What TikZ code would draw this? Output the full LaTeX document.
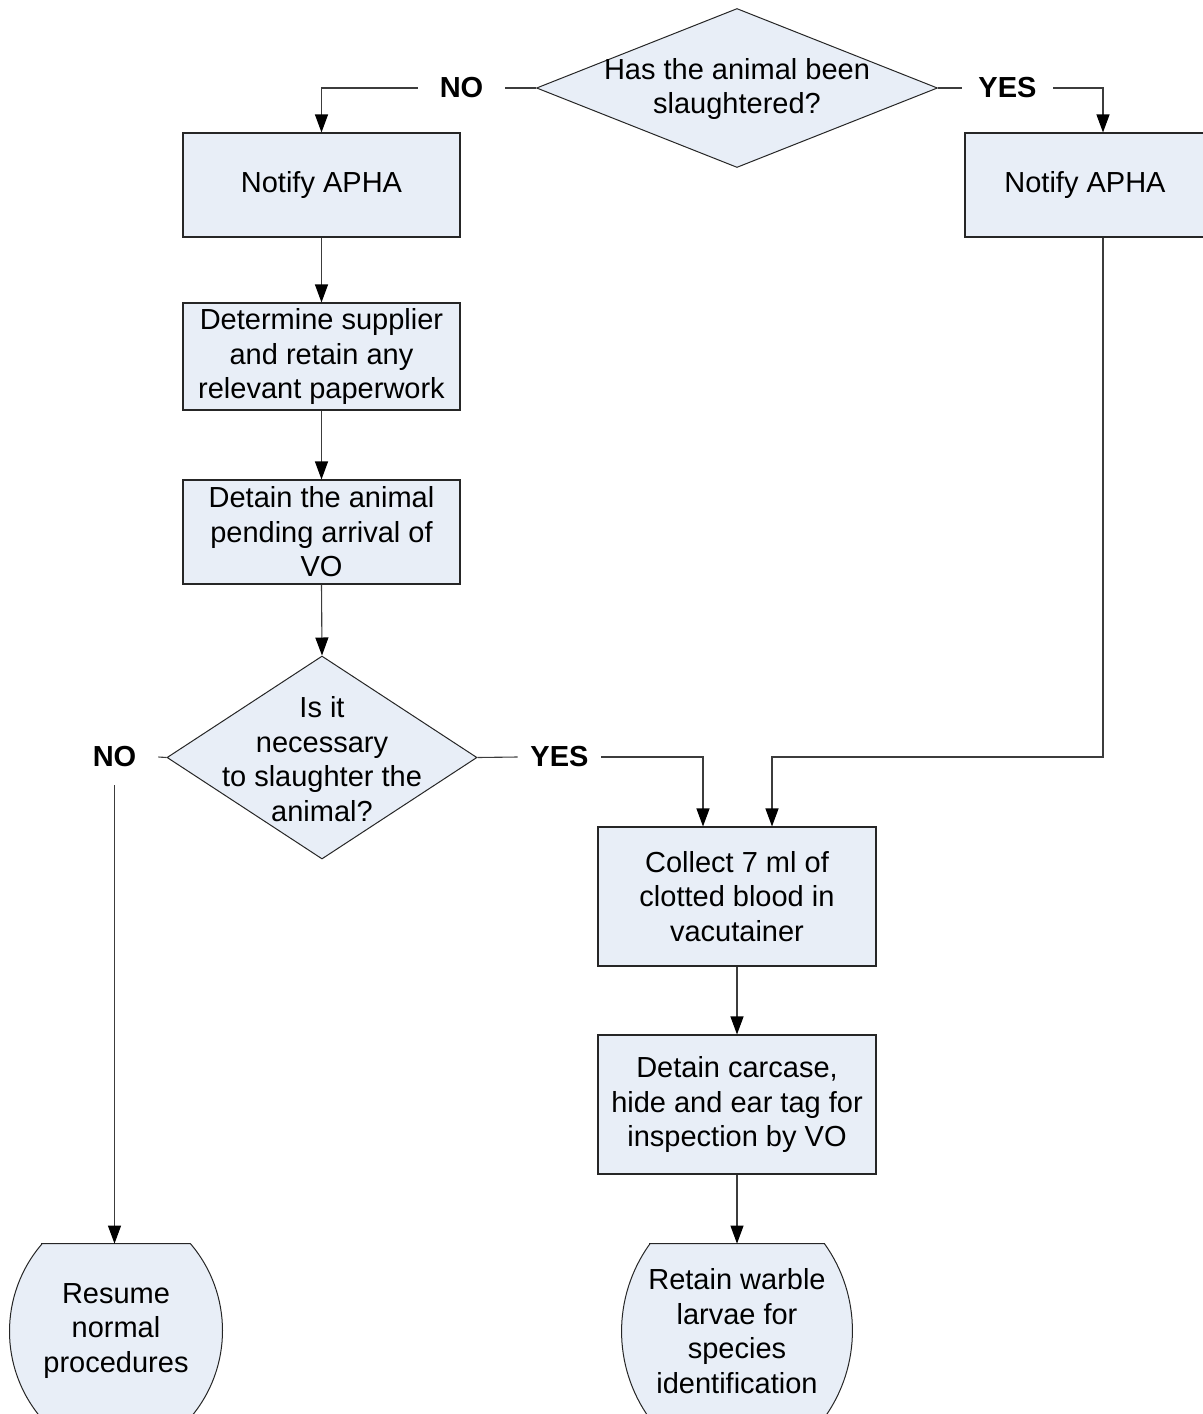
\documentclass[tikz,border=0pt]{standalone}
\usepackage{fontspec}
\setmainfont{Liberation Sans}
\usetikzlibrary{arrows.meta,shapes.geometric,calc}
\definecolor{boxfill}{RGB}{232,238,247}
\definecolor{edgegray}{RGB}{60,60,60}
\pgfdeclarelayer{bg}
\pgfsetlayers{bg,main}
\tikzset{
  every node/.style={font=\fontsize{14.5}{17.3}\selectfont, align=center},
  stepbox/.style={draw=black!85, fill=boxfill, line width=0.55pt, inner sep=0pt, minimum width=138.5pt},
  decision/.style={diamond, draw=black!85, fill=boxfill, line width=0.5pt, inner sep=0pt},
  termbox/.style={inner sep=0pt, minimum height=87pt},
  termline/.style={draw=black!85, fill=boxfill, line width=0.5pt},
  answer/.style={font=\fontsize{14.5}{17.3}\selectfont\bfseries, inner sep=0pt, minimum width=43.5pt, minimum height=28pt},
  flow/.style={draw=edgegray, line width=0.55pt},
  arrow/.style={flow, -{Triangle[length=9pt,width=6.5pt,color=black]}}
}
\newcommand\termpath[4]{%
  ($(#1.north west)+(#2,0)$) -- ($(#1.north east)+(-#2,0)$)
  arc[start angle=-#4, end angle=#4, radius=#3]
  -- ($(#1.south west)+(#2,0)$)
  arc[start angle=180-#4, end angle=180+#4, radius=#3] -- cycle}
\begin{document}
\begin{tikzpicture}[x=0.5pt,y=-0.5pt]
\useasboundingbox (0,0) rectangle (1203,1414);
\begin{pgfonlayer}{bg}
\fill[white] (0,0) rectangle (1203,1414);
\end{pgfonlayer}
\node[decision, minimum width=200.5pt, minimum height=79.5pt] (slaughtered) at (737,88) {};
\node (slaughteredtext) at (737,89) {Has the animal been\\slaughtered?};
\node[answer] (noA) at (461.5,88) {NO};
\node[answer, minimum width=45.5pt] (yesA) at (1007.5,88) {YES};
\coordinate (railR) at (1103,0);
\node[stepbox, minimum height=52pt] (notifyL) at (321.5,185) {Notify APHA};
\node[stepbox, minimum width=120pt, minimum height=52pt] (notifyR) at (1085,185) {Notify APHA};
\node[stepbox, minimum height=53.5pt] (supplier) at (321.5,356.5) {Determine supplier\\and retain any\\relevant paperwork};
\node[stepbox, minimum height=52pt] (detain) at (321.5,532) {Detain the animal\\pending arrival of\\VO};
\node[decision, minimum width=155pt, minimum height=101.5pt] (necessary) at (322,757.5) {};
\node (necessarytext) at (322,759) {Is it\\necessary\\to slaughter the\\animal?};
\node[answer] (noB) at (114.5,757) {NO};
\node[answer, minimum width=41.5pt] (yesB) at (559.5,757) {YES};
\coordinate (joinR) at (772,757);
\node[stepbox, minimum width=139pt, minimum height=69.5pt] (collect) at (737,896.5) {Collect 7 ml of\\clotted blood in\\vacutainer};
\node[stepbox, minimum width=139pt, minimum height=69.5pt] (carcase) at (737,1104.5) {Detain carcase,\\hide and ear tag for\\inspection by VO};
\node[termbox, minimum width=106pt] (resume) at (116,1331) {Resume\\normal\\procedures};
\node[termbox, minimum width=115pt] (retain) at (737,1331) {Retain warble\\larvae for\\species\\identification};
\begin{pgfonlayer}{bg}
\draw[termline] \termpath{resume}{32}{134}{40.5};
\draw[termline] \termpath{retain}{28}{149.2}{35.7};
\end{pgfonlayer}
\draw[flow] (slaughtered.west) -- (noA.east);
\draw[arrow] (noA.west) -| (notifyL.north);
\draw[flow] (slaughtered.east) -- (yesA.west);
\draw[arrow] (yesA.east) -| (railR |- notifyR.north);
\draw[arrow] (notifyL.south) -- (supplier.north);
\draw[arrow] (supplier.south) -- (detain.north);
\draw[arrow] (detain.south) -- (necessary.north);
\draw[flow] (necessary.west) -- (noB.east);
\draw[arrow] (noB.south) -- (noB.south |- resume.north);
\draw[flow] (necessary.east) -- (yesB.west);
\draw[arrow] (yesB.east) -| ([xshift=-17pt]collect.north);
\draw[arrow] (railR |- notifyR.south) |- (joinR) -- (joinR |- collect.north);
\draw[arrow] (collect.south) -- (carcase.north);
\draw[arrow] (carcase.south) -- (retain.north);
\end{tikzpicture}
\end{document}
